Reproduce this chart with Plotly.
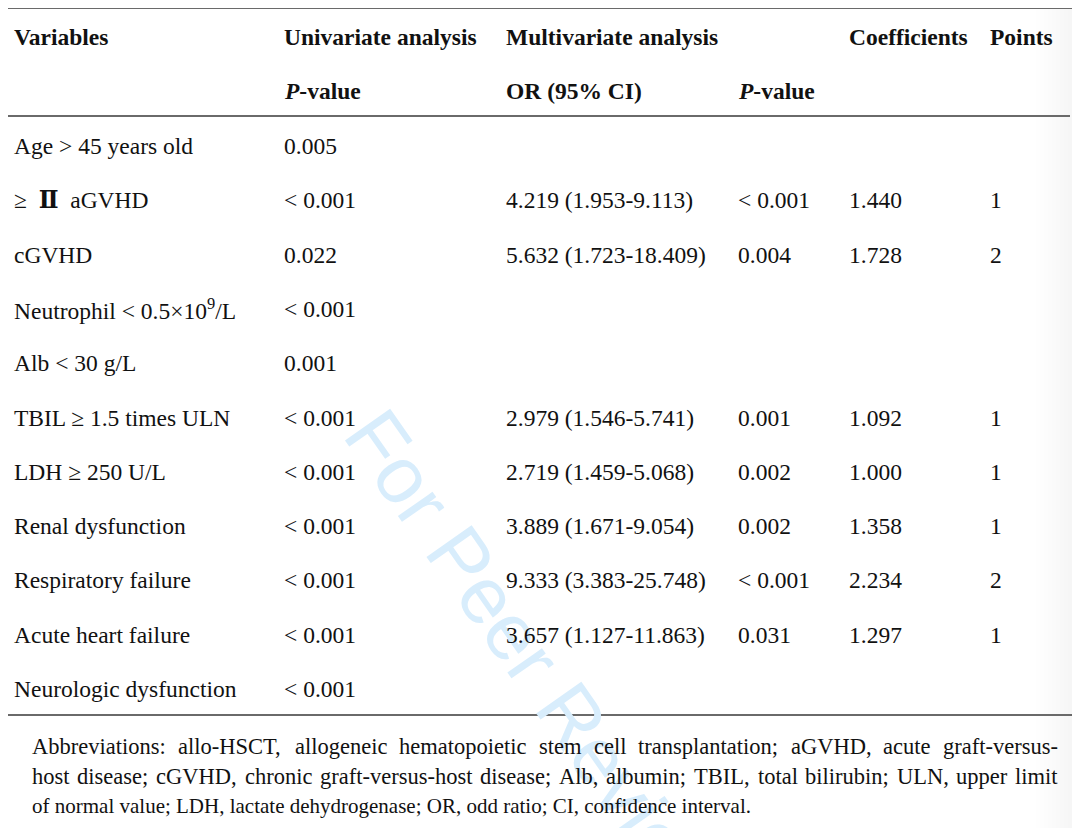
import plotly.graph_objects as go

variables = ["Age &gt; 45 years old",
             "≥&nbsp;&nbsp;<span style=\"font-family:DejaVu Serif;font-weight:bold\">Ⅱ</span>&nbsp;&nbsp;aGVHD",
             "cGVHD", "Neutrophil &lt; 0.5×10<sup>9</sup>/L",
             "Alb &lt; 30 g/L", "TBIL ≥ 1.5 times ULN", "LDH ≥ 250 U/L", "Renal dysfunction",
             "Respiratory failure", "Acute heart failure", "Neurologic dysfunction"]
uni_p = ["0.005", "&lt; 0.001", "0.022", "&lt; 0.001", "0.001", "&lt; 0.001", "&lt; 0.001",
         "&lt; 0.001", "&lt; 0.001", "&lt; 0.001", "&lt; 0.001"]
or_ci = ["", "4.219 (1.953-9.113)", "5.632 (1.723-18.409)", "", "", "2.979 (1.546-5.741)",
         "2.719 (1.459-5.068)", "3.889 (1.671-9.054)", "9.333 (3.383-25.748)", "3.657 (1.127-11.863)", ""]
multi_p = ["", "&lt; 0.001", "0.004", "", "", "0.001", "0.002", "0.002", "&lt; 0.001", "0.031", ""]
coef = ["", "1.440", "1.728", "", "", "1.092", "1.000", "1.358", "2.234", "1.297", ""]
points = ["", "1", "2", "", "", "1", "1", "1", "2", "1", ""]

header1 = ["Variables", "Univariate analysis", "Multivariate analysis", "", "Coefficients", "Points"]
header2 = ["", "<i>P</i>-value", "OR (95% CI)", "<i>P</i>-value", "", ""]

footnote = [
    "Abbreviations: allo-HSCT, allogeneic hematopoietic stem cell transplantation; aGVHD, acute graft-versus-",
    "host disease; cGVHD, chronic graft-versus-host disease; Alb, albumin; TBIL, total bilirubin; ULN, upper limit",
    "of normal value; LDH, lactate dehydrogenase; OR, odd ratio; CI, confidence interval.",
]
justified = [True, True, False]

W, H = 1080, 828
OFF = 8  # page body margin
col_x = [12, 282, 504, 736, 847, 988]
row_y0 = 146
row_dy = 54.3
FONT = "Liberation Serif, Times New Roman, serif"
TXT = "#111111"
FS = 23.5
FN_FS_J = 22.5
FN_FS = 21

# Times / Liberation Serif advance widths (per 1000 em) for layout of justified lines
TW = {' ': 250, ',': 250, '-': 333, '.': 250, ';': 278, ':': 278, '(': 333, ')': 333,
      'A': 722, 'B': 667, 'C': 667, 'D': 722, 'E': 611, 'F': 556, 'G': 722, 'H': 722, 'I': 333,
      'J': 389, 'K': 722, 'L': 611, 'M': 889, 'N': 722, 'O': 722, 'P': 556, 'Q': 722, 'R': 667,
      'S': 556, 'T': 611, 'U': 722, 'V': 722, 'W': 944, 'X': 722, 'Y': 722, 'Z': 611,
      'a': 444, 'b': 500, 'c': 444, 'd': 500, 'e': 444, 'f': 333, 'g': 500, 'h': 500, 'i': 278,
      'j': 278, 'k': 500, 'l': 278, 'm': 778, 'n': 500, 'o': 500, 'p': 500, 'q': 500, 'r': 333,
      's': 389, 't': 278, 'u': 500, 'v': 500, 'w': 722, 'x': 500, 'y': 500, 'z': 444}

def tw(s, size):
    return sum(TW.get(c, 500) for c in s) * size / 1000.0

fig = go.Figure()
fig.add_trace(go.Scatter(x=[OFF + 1, OFF + W - 1], y=[OFF + 1, OFF + H - 1], mode="markers",
                         marker=dict(opacity=0, size=1), hoverinfo="skip", showlegend=False))

ann = []
# watermark
ann.append(dict(x=535, y=663, text="For Peer Review", showarrow=False, textangle=55,
                font=dict(family="Liberation Sans, Arial, sans-serif", size=80, color="#d8edfc"),
                xanchor="center", yanchor="middle"))

def add(x, y, t, bold=False, size=FS):
    if not t:
        return
    if bold:
        t = "<b>" + t + "</b>"
    ann.append(dict(x=x, y=y, text=t, showarrow=False, xanchor="left", yanchor="middle",
                    font=dict(family=FONT, size=size, color=TXT)))

for j, t in enumerate(header1):
    add(col_x[j], 37, t, bold=True)
for j, t in enumerate(header2):
    add(col_x[j], 91, t, bold=True)

cols = [variables, uni_p, or_ci, multi_p, coef, points]
for i in range(len(variables)):
    y = row_y0 + i * row_dy
    for j, col in enumerate(cols):
        add(col_x[j], y, col[i])

fn_x0, fn_x1 = 30, 1056
for k, line in enumerate(footnote):
    y = 746 + k * 30
    if justified[k]:
        words = line.split(" ")
        wsum = sum(tw(w, FN_FS_J) for w in words)
        gap = (fn_x1 - fn_x0 - wsum) / (len(words) - 1)
        x = fn_x0
        for w in words:
            add(x, y, w, size=FN_FS_J)
            x += tw(w, FN_FS_J) + gap
    else:
        add(fn_x0, y, line, size=FN_FS)

shapes = [
    dict(type="line", x0=4, x1=1080, y0=8, y1=8, line=dict(color="#6a6a6a", width=2)),
    dict(type="line", x0=4, x1=1070, y0=116, y1=116, line=dict(color="#6a6a6a", width=2)),
    dict(type="line", x0=4, x1=1072, y0=715, y1=715, line=dict(color="#6a6a6a", width=2)),
]
# right-edge shadow
for k in range(12):
    x0 = 1036 + k * 4
    shapes.append(dict(type="rect", x0=x0, x1=1090, y0=0, y1=H + 20, line=dict(width=0),
                       fillcolor="rgba(150,150,150,0.012)", layer="below"))

fig.update_layout(
    width=W, height=H, autosize=False,
    margin=dict(l=0, r=0, t=0, b=0),
    paper_bgcolor="white", plot_bgcolor="white",
    xaxis=dict(range=[OFF, OFF + W], visible=False, fixedrange=True),
    yaxis=dict(range=[OFF + H, OFF], visible=False, fixedrange=True),
    annotations=ann, shapes=shapes,
)
fig.write_html("out.html")
